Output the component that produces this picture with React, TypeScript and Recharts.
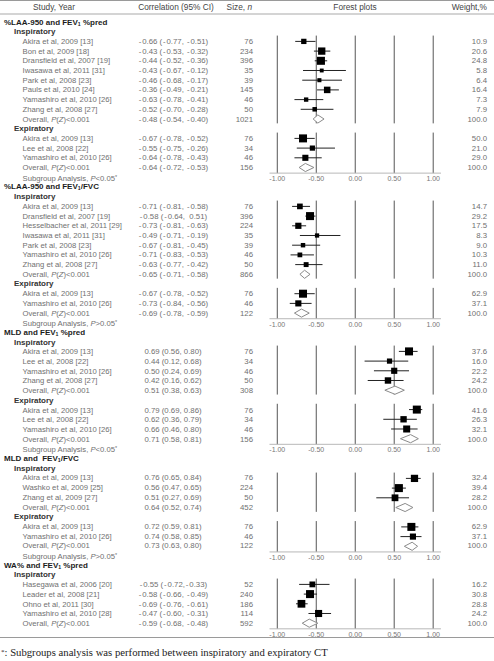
import React from 'react';
import { ScatterChart, Scatter, XAxis, YAxis, ReferenceLine, ErrorBar } from 'recharts';

type Study = { study: string; ci: string; r: number; lo: number; hi: number; n: number; w: number };
type Overall = { ci: string; r: number; lo: number; hi: number; n: number; w: number };

// ---- Section 1: %LAA-950 and FEV1 %pred ----
const laaFev1Insp: Study[] = [
  { study: 'Akira et al, 2009 [13]', ci: '-0.66 (-0.77, -0.51)', r: -0.66, lo: -0.77, hi: -0.51, n: 76, w: 10.9 },
  { study: 'Bon et al, 2009 [18]', ci: '-0.43 (-0.53, -0.32)', r: -0.43, lo: -0.53, hi: -0.32, n: 234, w: 20.6 },
  { study: 'Dransfield et al, 2007 [19]', ci: '-0.44 (-0.52, -0.36)', r: -0.44, lo: -0.52, hi: -0.36, n: 396, w: 24.8 },
  { study: 'Iwasawa et al, 2011 [31]', ci: '-0.43 (-0.67, -0.12)', r: -0.43, lo: -0.67, hi: -0.12, n: 35, w: 5.8 },
  { study: 'Park et al, 2008 [23]', ci: '-0.46 (-0.68, -0.17)', r: -0.46, lo: -0.68, hi: -0.17, n: 39, w: 6.4 },
  { study: 'Pauls et al, 2010 [24]', ci: '-0.36 (-0.49, -0.21)', r: -0.36, lo: -0.49, hi: -0.21, n: 145, w: 16.4 },
  { study: 'Yamashiro et al, 2010 [26]', ci: '-0.63 (-0.78, -0.41)', r: -0.63, lo: -0.78, hi: -0.41, n: 46, w: 7.3 },
  { study: 'Zhang et al, 2008 [27]', ci: '-0.52 (-0.70, -0.28)', r: -0.52, lo: -0.70, hi: -0.28, n: 50, w: 7.9 },
];
const laaFev1InspOverall: Overall = { ci: '-0.48 (-0.54, -0.40)', r: -0.48, lo: -0.54, hi: -0.40, n: 1021, w: 100.0 };
const laaFev1Exp: Study[] = [
  { study: 'Akira et al, 2009 [13]', ci: '-0.67 (-0.78, -0.52)', r: -0.67, lo: -0.78, hi: -0.52, n: 76, w: 50.0 },
  { study: 'Lee et al, 2008 [22]', ci: '-0.55 (-0.75, -0.26)', r: -0.55, lo: -0.75, hi: -0.26, n: 34, w: 21.0 },
  { study: 'Yamashiro et al, 2010 [26]', ci: '-0.64 (-0.78, -0.43)', r: -0.64, lo: -0.78, hi: -0.43, n: 46, w: 29.0 },
];
const laaFev1ExpOverall: Overall = { ci: '-0.64 (-0.72, -0.53)', r: -0.64, lo: -0.72, hi: -0.53, n: 156, w: 100.0 };

// ---- Section 2: %LAA-950 and FEV1/FVC ----
const laaFvcInsp: Study[] = [
  { study: 'Akira et al, 2009 [13]', ci: '-0.71 (-0.81, -0.58)', r: -0.71, lo: -0.81, hi: -0.58, n: 76, w: 14.7 },
  { study: 'Dransfield et al, 2007 [19]', ci: '-0.58 (-0.64,  0.51)', r: -0.58, lo: -0.64, hi: -0.51, n: 396, w: 29.2 },
  { study: 'Hesselbacher et al, 2011 [29]', ci: '-0.73 (-0.81, -0.63)', r: -0.73, lo: -0.81, hi: -0.63, n: 224, w: 17.5 },
  { study: 'Iwasawa et al, 2011 [31]', ci: '-0.49 (-0.71, -0.19)', r: -0.49, lo: -0.71, hi: -0.19, n: 35, w: 8.3 },
  { study: 'Park et al, 2008 [23]', ci: '-0.67 (-0.81, -0.45)', r: -0.67, lo: -0.81, hi: -0.45, n: 39, w: 9.0 },
  { study: 'Yamashiro et al, 2010 [26]', ci: '-0.71 (-0.83, -0.53)', r: -0.71, lo: -0.83, hi: -0.53, n: 46, w: 10.3 },
  { study: 'Zhang et al, 2008 [27]', ci: '-0.63 (-0.77, -0.42)', r: -0.63, lo: -0.77, hi: -0.42, n: 50, w: 11.0 },
];
const laaFvcInspOverall: Overall = { ci: '-0.65 (-0.71, -0.58)', r: -0.65, lo: -0.71, hi: -0.58, n: 866, w: 100.0 };
const laaFvcExp: Study[] = [
  { study: 'Akira et al, 2009 [13]', ci: '-0.67 (-0.78, -0.52)', r: -0.67, lo: -0.78, hi: -0.52, n: 76, w: 62.9 },
  { study: 'Yamashiro et al, 2010 [26]', ci: '-0.73 (-0.84, -0.56)', r: -0.73, lo: -0.84, hi: -0.56, n: 46, w: 37.1 },
];
const laaFvcExpOverall: Overall = { ci: '-0.69 (-0.78, -0.59)', r: -0.69, lo: -0.78, hi: -0.59, n: 122, w: 100.0 };

// ---- Section 3: MLD and FEV1 %pred ----
const mldFev1Insp: Study[] = [
  { study: 'Akira et al, 2009 [13]', ci: '0.69 (0.56, 0.80)', r: 0.69, lo: 0.56, hi: 0.80, n: 76, w: 37.6 },
  { study: 'Lee et al, 2008 [22]', ci: '0.44 (0.12, 0.68)', r: 0.44, lo: 0.12, hi: 0.68, n: 34, w: 16.0 },
  { study: 'Yamashiro et al, 2010 [26]', ci: '0.50 (0.24, 0.69)', r: 0.50, lo: 0.24, hi: 0.69, n: 46, w: 22.2 },
  { study: 'Zhang et al, 2008 [27]', ci: '0.42 (0.16, 0.62)', r: 0.42, lo: 0.16, hi: 0.62, n: 50, w: 24.2 },
];
const mldFev1InspOverall: Overall = { ci: '0.51 (0.38, 0.63)', r: 0.51, lo: 0.38, hi: 0.63, n: 308, w: 100.0 };
const mldFev1Exp: Study[] = [
  { study: 'Akira et al, 2009 [13]', ci: '0.79 (0.69, 0.86)', r: 0.79, lo: 0.69, hi: 0.86, n: 76, w: 41.6 },
  { study: 'Lee et al, 2008 [22]', ci: '0.62 (0.36, 0.79)', r: 0.62, lo: 0.36, hi: 0.79, n: 34, w: 26.3 },
  { study: 'Yamashiro et al, 2010 [26]', ci: '0.66 (0.46, 0.80)', r: 0.66, lo: 0.46, hi: 0.80, n: 46, w: 32.1 },
];
const mldFev1ExpOverall: Overall = { ci: '0.71 (0.58, 0.81)', r: 0.71, lo: 0.58, hi: 0.81, n: 156, w: 100.0 };

// ---- Section 4: MLD and FEV1/FVC ----
const mldFvcInsp: Study[] = [
  { study: 'Akira et al, 2009 [13]', ci: '0.76 (0.65, 0.84)', r: 0.76, lo: 0.65, hi: 0.84, n: 76, w: 32.4 },
  { study: 'Washko et al, 2009 [25]', ci: '0.56 (0.47, 0.65)', r: 0.56, lo: 0.47, hi: 0.65, n: 224, w: 39.4 },
  { study: 'Zhang et al, 2009 [27]', ci: '0.51 (0.27, 0.69)', r: 0.51, lo: 0.27, hi: 0.69, n: 50, w: 28.2 },
];
const mldFvcInspOverall: Overall = { ci: '0.64 (0.52, 0.74)', r: 0.64, lo: 0.52, hi: 0.74, n: 452, w: 100.0 };
const mldFvcExp: Study[] = [
  { study: 'Akira et al, 2009 [13]', ci: '0.72 (0.59, 0.81)', r: 0.72, lo: 0.59, hi: 0.81, n: 76, w: 62.9 },
  { study: 'Yamashiro et al, 2010 [26]', ci: '0.74 (0.58, 0.85)', r: 0.74, lo: 0.58, hi: 0.85, n: 46, w: 37.1 },
];
const mldFvcExpOverall: Overall = { ci: '0.73 (0.63, 0.80)', r: 0.73, lo: 0.63, hi: 0.80, n: 122, w: 100.0 };

// ---- Section 5: WA% and FEV1 %pred ----
const waFev1Insp: Study[] = [
  { study: 'Hasegawa et al, 2006 [20]', ci: '-0.55 (-0.72,-0.33)', r: -0.55, lo: -0.72, hi: -0.33, n: 52, w: 16.2 },
  { study: 'Leader et al, 2008 [21]', ci: '-0.58 (-0.66, -0.49)', r: -0.58, lo: -0.66, hi: -0.49, n: 240, w: 30.8 },
  { study: 'Ohno et al, 2011 [30]', ci: '-0.69 (-0.76, -0.61)', r: -0.69, lo: -0.76, hi: -0.61, n: 186, w: 28.8 },
  { study: 'Yamashiro et al, 2010 [28]', ci: '-0.47 (-0.60, -0.31)', r: -0.47, lo: -0.60, hi: -0.31, n: 114, w: 24.2 },
];
const waFev1InspOverall: Overall = { ci: '-0.59 (-0.68, -0.48)', r: -0.59, lo: -0.68, hi: -0.48, n: 592, w: 100.0 };

const sectionTitles = ['%LAA-950 and FEV1 %pred', '%LAA-950 and FEV1/FVC', 'MLD and FEV1 %pred', 'MLD and  FEV1/FVC', 'WA% and FEV1 %pred'];
const subgroupTests: (string | null)[] = ['<0.05', '>0.05', '<0.05', '>0.05', null];
const groupLabels = ['Inspiratory', 'Expiratory'];
const axisTicks = [-1, -0.5, 0, 0.5, 1];
const footnote = ': Subgroups analysis was performed between inspiratory and expiratory CT';

const sectionGroups: [Study[], Overall][][] = [
  [[laaFev1Insp, laaFev1InspOverall], [laaFev1Exp, laaFev1ExpOverall]],
  [[laaFvcInsp, laaFvcInspOverall], [laaFvcExp, laaFvcExpOverall]],
  [[mldFev1Insp, mldFev1InspOverall], [mldFev1Exp, mldFev1ExpOverall]],
  [[mldFvcInsp, mldFvcInspOverall], [mldFvcExp, mldFvcExpOverall]],
  [[waFev1Insp, waFev1InspOverall]],
];

// ---- layout constants ----
const W = 494;
const H = 661;
const ROW0 = 22;
const ROWH = 9.7;
const rowY = (i: number) => ROW0 + ROWH * i;
const PLOT_L = 269.5;
const PLOT_R = 441;
const XAXIS_H = 12;
const FONT = "'Liberation Sans', Arial, Helvetica, sans-serif";
const GRAY = '#707070';
const FS_NAME = 7.7;
const FS_NUM = 7.8;
const FS_TITLE = 8;
const FS_HEAD = 8.3;

type TextRow =
  | { kind: 'title'; row: number; text: string }
  | { kind: 'group'; row: number; text: string }
  | { kind: 'study'; row: number; s: Study }
  | { kind: 'overall'; row: number; o: Overall }
  | { kind: 'sub'; row: number; p: string };

type GroupLayout = { first: number; overallRow: number; pts: any[]; overall: Overall };
type SectionLayout = { titleRow: number; lastRow: number; groups: GroupLayout[] };

function buildLayout() {
  let i = 0;
  const textRows: TextRow[] = [];
  const sections: SectionLayout[] = [];
  sectionGroups.forEach((groups, si) => {
    const titleRow = i++;
    textRows.push({ kind: 'title', row: titleRow, text: sectionTitles[si] });
    const gl: GroupLayout[] = [];
    groups.forEach(([studies, overall], gi) => {
      const labelRow = i++;
      textRows.push({ kind: 'group', row: labelRow, text: groupLabels[gi] });
      const first = i;
      const maxW = Math.max(...studies.map((s) => s.w));
      const pts = studies.map((s) => {
        const row = i++;
        textRows.push({ kind: 'study', row, s });
        return { x: s.r, y: row, err: [s.r - s.lo, s.hi - s.r], rel: s.w / maxW };
      });
      const overallRow = i++;
      textRows.push({ kind: 'overall', row: overallRow, o: overall });
      gl.push({ first, overallRow, pts, overall });
    });
    const lastRow = i - 1;
    const p = subgroupTests[si];
    if (p) textRows.push({ kind: 'sub', row: i++, p });
    sections.push({ titleRow, lastRow, groups: gl });
  });
  return { textRows, sections };
}

const { textRows, sections } = buildLayout();

const withSub = (t: string) => {
  const parts = t.split('FEV1');
  return parts.map((p, k) => (
    <React.Fragment key={k}>
      {k > 0 && (
        <>
          FEV<span style={{ fontSize: '0.65em', verticalAlign: '-0.2em' }}>1</span>
        </>
      )}
      {p}
    </React.Fragment>
  ));
};

// hyphens in the reference are set as wide minus signs: pad them a little
const wideDash = (t: string) =>
  t.split('-').map((p, k) => (
    <React.Fragment key={k}>
      {k > 0 && <span style={{ padding: '0 0.9px' }}>-</span>}
      {p}
    </React.Fragment>
  ));

const Txt = ({ y, left, width, align, style, children }: any) => (
  <div
    style={{
      position: 'absolute',
      top: y - 5.5,
      left,
      width,
      height: 11,
      lineHeight: '11px',
      textAlign: align || 'left',
      whiteSpace: 'pre',
      ...style,
    }}
  >
    {children}
  </div>
);

const squareShape = (props: any) => {
  const { cx, cy, payload } = props;
  const s = Math.max(3.2, 8 * Math.sqrt(payload.rel));
  return <rect x={cx - s / 2} y={cy - s / 2} width={s} height={s} fill="#000" />;
};
const noShape = () => <g />;

const diamondPts = (o: Overall, row: number) => [
  { x: o.lo, y: row },
  { x: o.r, y: row - 0.42 },
  { x: o.hi, y: row },
  { x: o.r, y: row + 0.42 },
  { x: o.lo, y: row },
];

const ForestSection = ({ sec }: { sec: SectionLayout }) => {
  const rTop = sec.titleRow;
  const rBot = sec.lastRow + 0.58;
  const top = rowY(rTop);
  const plotH = ROWH * (rBot - rTop);
  const height = plotH + XAXIS_H;
  const nG = sec.groups.length;
  return (
    <div style={{ position: 'absolute', left: 0, top }}>
      <ScatterChart width={W} height={height} margin={{ top: 0, right: W - PLOT_R, bottom: 0, left: PLOT_L }}>
        <XAxis
          type="number"
          dataKey="x"
          domain={[-1.1, 1.1]}
          ticks={axisTicks}
          interval={0}
          allowDataOverflow
          tickFormatter={(v: number) => v.toFixed(2)}
          height={XAXIS_H}
          axisLine={{ stroke: '#b8b8b8', strokeWidth: 1 }}
          tickLine={false}
          tickSize={2}
          tickMargin={1}
          tick={{ fontSize: 7, fill: '#777', fontFamily: FONT }}
        />
        <YAxis type="number" dataKey="y" domain={[rTop, rBot]} reversed hide allowDataOverflow />
        {sec.groups.map((g, gi) =>
          axisTicks.map((v) => (
            <ReferenceLine
              key={`rl-${gi}-${v}`}
              segment={[
                { x: v, y: g.first - 0.6 },
                { x: v, y: gi === nG - 1 ? rBot : g.overallRow + 0.45 },
              ]}
              stroke="#555"
              strokeWidth={1}
              ifOverflow="visible"
            />
          ))
        )}
        {sec.groups.map((g, gi) => (
          <Scatter key={`s-${gi}`} data={g.pts} shape={squareShape} isAnimationActive={false}>
            <ErrorBar dataKey="err" direction="x" width={0} stroke="#222" strokeWidth={1} />
          </Scatter>
        ))}
        {sec.groups.map((g, gi) => (
          <Scatter
            key={`d-${gi}`}
            data={diamondPts(g.overall, g.overallRow)}
            line={{ stroke: '#8a8a8a', strokeWidth: 1, fill: '#fff' }}
            lineType="joint"
            shape={noShape}
            isAnimationActive={false}
          />
        ))}
      </ScatterChart>
    </div>
  );
};

export default function App() {
  const nameStyle = { fontSize: FS_NAME, color: GRAY };
  const numStyle = { fontSize: FS_NUM, color: GRAY };
  const headStyle = { fontSize: FS_HEAD, color: '#444' };
  return (
    <div
      style={{
        position: 'absolute',
        left: 0,
        top: 0,
        width: W,
        height: H,
        background: '#fff',
        fontFamily: FONT,
        overflow: 'hidden',
      }}
    >
      {/* rules */}
      <div style={{ position: 'absolute', left: 0, top: 0, width: W, height: 1, background: '#9a9a9a' }} />
      <div style={{ position: 'absolute', left: 0, top: 13, width: W, height: 2, background: '#d4d4d4' }} />
      <div style={{ position: 'absolute', left: 0, top: 637, width: W, height: 1, background: '#9a9a9a' }} />

      {/* header */}
      <Txt y={7} left={4} width={100} align="center" style={headStyle}>Study, Year</Txt>
      <Txt y={7} left={126} width={100} align="center" style={headStyle}>Correlation (95% CI)</Txt>
      <Txt y={7} left={192} width={60} align="right" style={headStyle}>
        Size, <i>n</i>
      </Txt>
      <Txt y={7} left={305} width={100} align="center" style={headStyle}>Forest plots</Txt>
      <Txt y={7} left={427} width={60} align="right" style={headStyle}>Weight,%</Txt>

      {/* forest plots */}
      {sections.map((sec, k) => (
        <ForestSection key={k} sec={sec} />
      ))}

      {/* text rows */}
      {textRows.map((t, k) => {
        const y = rowY(t.row);
        if (t.kind === 'title')
          return (
            <Txt key={k} y={y} left={4} width={200} style={{ fontSize: FS_TITLE, fontWeight: 'bold', color: '#1c1c1c' }}>
              {withSub(t.text)}
            </Txt>
          );
        if (t.kind === 'group')
          return (
            <Txt key={k} y={y} left={14} width={100} style={{ fontSize: FS_TITLE, fontWeight: 'bold', color: '#333' }}>
              {t.text}
            </Txt>
          );
        if (t.kind === 'sub')
          return (
            <Txt key={k} y={y} left={22.5} width={130} style={nameStyle}>
              Subgroup Analysis, <i>P</i>
              {t.p}
              <span style={{ fontSize: 5.5, verticalAlign: '0.35em' }}>*</span>
            </Txt>
          );
        const ci = t.kind === 'study' ? t.s.ci : t.o.ci;
        const n = t.kind === 'study' ? t.s.n : t.o.n;
        const w = t.kind === 'study' ? t.s.w : t.o.w;
        return (
          <React.Fragment key={k}>
            <Txt y={y} left={22.5} width={120} style={nameStyle}>
              {t.kind === 'study' ? (
                t.s.study
              ) : (
                <>
                  Overall, <i>P</i>(<i>Z</i>)&lt;0.001
                </>
              )}
            </Txt>
            <Txt y={y} left={123} width={100} align="center" style={numStyle}>
              {wideDash(ci)}
            </Txt>
            <Txt y={y} left={203} width={50} align="right" style={numStyle}>
              {String(n)}
            </Txt>
            <Txt y={y} left={437} width={50} align="right" style={numStyle}>
              {w.toFixed(1)}
            </Txt>
          </React.Fragment>
        );
      })}

      {/* footnote */}
      <div
        style={{
          position: 'absolute',
          left: 1,
          top: 646,
          fontFamily: "'Liberation Serif', 'Times New Roman', serif",
          fontSize: 10.7,
          color: '#222',
          whiteSpace: 'nowrap',
          lineHeight: '13px',
        }}
      >
        <span style={{ fontSize: 7, verticalAlign: '0.35em' }}>*</span>
        {footnote}
      </div>
    </div>
  );
}
